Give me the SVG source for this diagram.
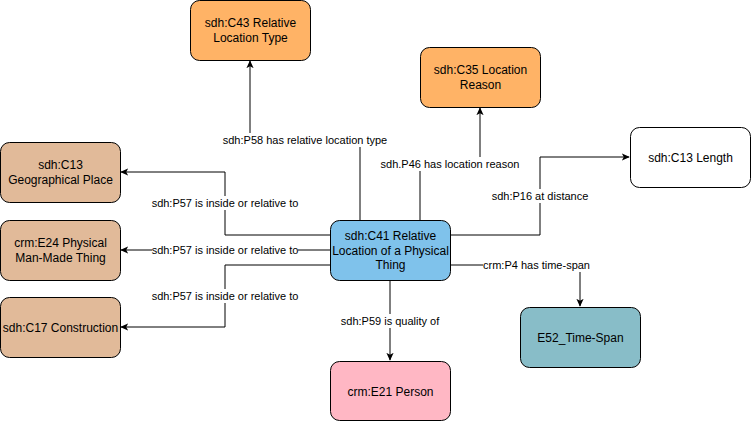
<svg xmlns="http://www.w3.org/2000/svg" width="751" height="422" viewBox="0 0 751 422">
<style>
.n rect{stroke:#000;stroke-width:1}
.n text{font-family:"Liberation Sans",Arial,sans-serif;font-size:12px;text-anchor:middle;fill:#000}
.e path{fill:none;stroke:#000;stroke-width:1}
.l rect{fill:#fff}
.l text{font-family:"Liberation Sans",Arial,sans-serif;font-size:11px;text-anchor:middle;fill:#000}
</style>
<defs>
<marker id="a" viewBox="0 0 10 10" refX="9" refY="5" markerWidth="8" markerHeight="8" markerUnits="userSpaceOnUse" orient="auto">
<path d="M0,0.5 L10,5 L0,9.5 L2.5,5 Z" fill="#000"/>
</marker>
</defs>
<rect width="751" height="422" fill="#fff"/>
<g id="connectors" class="e">
<path d="M360,220 V140 H250 V61" marker-end="url(#a)"/>
<path d="M420,220 V164 H480 V108" marker-end="url(#a)"/>
<path d="M450,235 H540 V157 H629" marker-end="url(#a)"/>
<path d="M450,265 H580 V306" marker-end="url(#a)"/>
<path d="M330,235 H225 V172 H121" marker-end="url(#a)"/>
<path d="M330,250 H121" marker-end="url(#a)"/>
<path d="M330,265 H225 V327 H121" marker-end="url(#a)"/>
<path d="M390,280 V360" marker-end="url(#a)"/>
</g>
<g id="labels" class="l">
<rect x="222" y="133" width="166" height="14"/><text x="305" y="144">sdh:P58 has relative location type</text>
<rect x="381" y="157" width="138" height="14"/><text x="450" y="168">sdh.P46 has location reason</text>
<rect x="491" y="189" width="98" height="14"/><text x="540" y="200">sdh:P16 at distance</text>
<rect x="483" y="258" width="107" height="14"/><text x="536.5" y="269">crm:P4 has time-span</text>
<rect x="152" y="196" width="146" height="14"/><text x="225" y="207">sdh:P57 is inside or relative to</text>
<rect x="152" y="243" width="146" height="14"/><text x="225" y="254">sdh:P57 is inside or relative to</text>
<rect x="152" y="289" width="146" height="14"/><text x="225" y="300">sdh:P57 is inside or relative to</text>
<rect x="340" y="314" width="100" height="14"/><text x="390" y="325">sdh:P59 is quality of</text>
</g>
<g id="c43" class="n"><rect x="190.5" y="0.5" width="120" height="60" rx="9" fill="#FFB366"/><text x="250.5" y="27">sdh:C43 Relative</text><text x="250.5" y="42">Location Type</text></g>
<g id="c35" class="n"><rect x="420.5" y="47.5" width="120" height="60" rx="9" fill="#FFB366"/><text x="480.5" y="74">sdh:C35 Location</text><text x="480.5" y="89">Reason</text></g>
<g id="c13len" class="n"><rect x="630.5" y="127.5" width="120" height="60" rx="9" fill="#FFFFFF"/><text x="690.5" y="161.5">sdh:C13 Length</text></g>
<g id="c13geo" class="n"><rect x="0.5" y="142.5" width="120" height="60" rx="9" fill="#E1BA99"/><text x="60.5" y="169">sdh:C13</text><text x="60.5" y="184">Geographical Place</text></g>
<g id="e24" class="n"><rect x="0.5" y="220.5" width="120" height="60" rx="9" fill="#E1BA99"/><text x="60.5" y="247">crm:E24 Physical</text><text x="60.5" y="262">Man-Made Thing</text></g>
<g id="c17" class="n"><rect x="0.5" y="297.5" width="120" height="60" rx="9" fill="#E1BA99"/><text x="60.5" y="331.5">sdh:C17 Construction</text></g>
<g id="c41" class="n"><rect x="330.5" y="220.5" width="120" height="60" rx="9" fill="#7FC2EB"/><text x="390.5" y="240">sdh:C41 Relative</text><text x="390.5" y="254.5">Location of a Physical</text><text x="390.5" y="269">Thing</text></g>
<g id="e52" class="n"><rect x="520.5" y="307.5" width="120" height="60" rx="9" fill="#88BDC8"/><text x="580.5" y="341.5">E52_Time-Span</text></g>
<g id="e21" class="n"><rect x="330.5" y="361.5" width="120" height="59" rx="9" fill="#FFB7C4"/><text x="390.5" y="395.5">crm:E21 Person</text></g>
</svg>
